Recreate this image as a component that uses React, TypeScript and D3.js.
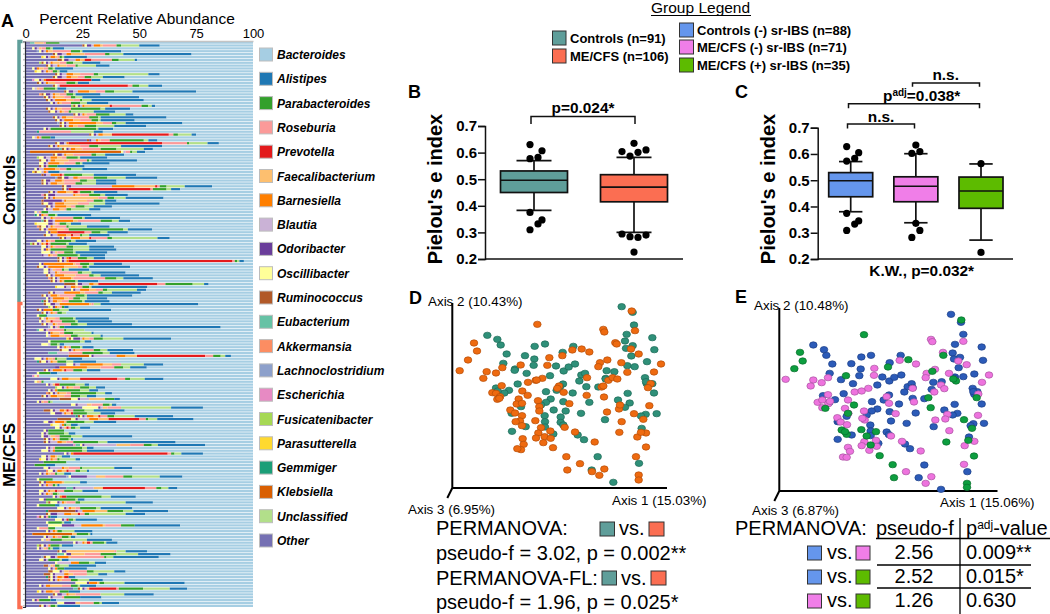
import React, { useEffect, useRef } from 'react'
import * as d3 from 'd3'

const font = '"Liberation Sans", Arial, sans-serif'

const percentTicks = [0, 25, 50, 75, 100]

// legend order, top to bottom
const taxa = ['Bacteroides', 'Alistipes', 'Parabacteroides', 'Roseburia', 'Prevotella', 'Faecalibacterium', 'Barnesiella', 'Blautia', 'Odoribacter', 'Oscillibacter', 'Ruminococcus', 'Eubacterium', 'Akkermansia', 'Lachnoclostridium', 'Escherichia', 'Fusicatenibacter', 'Parasutterella', 'Gemmiger', 'Klebsiella', 'Unclassified', 'Other']
const taxaColors = ['#a6cee3', '#1f78b4', '#33a02c', '#fb9a99', '#e31a1c', '#fdbf6f', '#ff7f00', '#cab2d6', '#6a3d9a', '#ffff99', '#b15928', '#66c2a5', '#fc8d62', '#8da0cb', '#e78ac3', '#a6d854', '#ffd92f', '#1b9e77', '#d95f02', '#b2df8a', '#7570b3']

// how the bars stack, left to right
const stackOrder = ['Other', 'Klebsiella', 'Gemmiger', 'Parasutterella', 'Fusicatenibacter', 'Escherichia', 'Lachnoclostridium', 'Akkermansia', 'Eubacterium', 'Ruminococcus', 'Oscillibacter', 'Odoribacter', 'Blautia', 'Barnesiella', 'Faecalibacterium', 'Prevotella', 'Roseburia', 'Parabacteroides', 'Unclassified', 'Alistipes', 'Bacteroides']

// columns of the two sample tables below
const mainColumns = ['Other', 'Ruminococcus', 'Oscillibacter', 'Odoribacter', 'Blautia', 'Barnesiella', 'Faecalibacterium', 'Prevotella', 'Roseburia', 'Parabacteroides', 'Unclassified', 'Alistipes']

const controlsRows = [
  [2,0,0,0,0,0,4,0,1,6,0,0],[25,1,1,2,1,3,1,0,6,2,8,9],[3,0,1,1,1,0,1,0,2,2,1,5],[5,0,1,1,1,1,2,0,8,4,1,17],[12,1,1,2,2,2,6,0,9,2,6,30],
  [7,0,1,1,1,2,1,0,1,1,1,10],[14,2,1,2,3,2,2,3,9,3,7,1],[6,1,1,1,1,1,3,0,3,3,4,8],[9,1,1,1,2,1,3,0,4,1,8,6],[3,0,1,1,0,1,2,0,2,2,1,8],
  [4,0,2,1,1,1,1,0,1,2,1,3.5],[13,1,1,1,2,3,3,0,6,2,22,5],[12,1,1,2,2,2,3,0,3,3,5,9.6],[3,0,2,1,1,1,0,20,0,0,0,4],[5,1,1,1,1,1,3,0,5,4,1,5],
  [12,1,1,0,1,0,0,30,2,3,4,6],[3,0,1,0,1,0,1,0,2,5,1,4],[17,1,1,2,2,5,3,0,4,4,8,28],[6,1,1,2,1,1,2,0,3,3,1,11],[8,1,1,1,1,1,4,0,3,2,3,25],
  [9,1,1,1,1,5,3,0,3,1,4,23],[11,0,1,1,1,1,1,0,4,4,3,9.5],[20,1,1,1,1,1,11,1,13,3,1.5,1.5],[9,1,1,1,1,1,2,0,4,13,2,11],[10,1,2,1,1,1,1,0,2,1,10,9.5],
  [21,1,1,1,1,1,1,0,4,6,7,3.5],[12,1,1,1,1,2,3,0,7,4,1,29],[13,1,1,1,1,4,3,0,5,3,1,15],[14,1,1,1,1,12,3,0,4,2,4,25],[15,1,1,1,1,2,2,0,3,5,8,14],
  [8,0,1,1,1,0,0,0,0,20,1,6.5],[5,0,0,0,0,0,0,0,14,0,10,4],[28,1,1,1,1,2,4,25,2,2,6,2],[3,0,1,0,1,1,0,0,1,4,0,2],[27,1,0,1,2,1,1,0,4,15,2,4],
  [13,1,1,2,1,1,0,41,11,1,8,5],[10,1,1,1,1,1,9,0,4,4,10,18],[15,1,1,1,1,2,3,0,8,7,12,4],[2,0,1,0,1,0,0,0,2,1,2,3.6],[12,1,1,2,1,1,3,0,8,2,4,8.4],
  [5,0,2,1,2,3,2,0,2,5,1,12],[6,1,2,1,1,2,6,0,8,1,1,20],[6,0,2,1,1,5,2,0,5,2,1,12],[6,1,1,1,0,0,0,0,1,4,0,12],[4,0,1,1,2,5,2,0,3,2,5,11],
  [3,1,2,0,1,1,0,0,1,0,0,5],[7,1,0,1,2,4,0,1,1,8,5,18.7],[13,2,1,2,2,2,1,0,6,6,8,14],[7,1,1,2,2,3,1,0,7,3,4,9],[7,1,1,1,1,3,3,0,5,3,6,9],
  [16,1,1,2,18,10,9,1,1,3,8,12],[16,1,1,1,0,0,0,36,1,6,2,4],[10,1,1,1,1,4,3,2,1,5,1,10.5],[7,1,1,3,8,1,2,0,4,5,2,10],[8,1,1,1,1,1,19,0,4,3,5,16.7],
  [7,1,0,8,1,1,9,0,3,4,1,5],[7,1,2,2,1,4,6,0,5,0,7,24],[9,1,1,1,1,5,2,0,2,4,4,8],[8,0,1,1,2,3,2,0,1,2,8,5],[4,0,1,0,1,0,0,0,1,3,0,0],
  [4,0,1,1,0,1,1,0,1,3,1,15],[7,0,1,1,2,1,1,0,8,4,1,15.7],[7,1,1,2,1,8,2,0,10,5,3,5],[4,0,5,2,1,0,1,0,1,3,2,4.4],[5,1,2,1,1,1,1,0,5,1,8,10],
  [6,1,1,1,1,4,3,0,2,24,2,10.6],[9,0,1,1,0,3,0,12,3,4,3,9],[8,1,2,1,2,4,2,1,3,1,3,9],[15,1,1,1,2,4,4,1,7,2,20,5.4],[5,0,2,1,1,1,1,0,2,7,2,9],
  [2,1,1,1,1,1,1,1,1,7,1,8],[7,0,2,1,1,1,1,0,5,3,7,11],[7,0,1,1,0,1,1,0,0,10,7,12],[7,0,4,1,1,0,1,0,3,4,1,14],[7,0,0,1,2,1,1,0,2,9,1,11],
  [14,1,1,1,1,1,0,1,3,4,3,5],[14,1,1,1,1,1,0,72,1,1,1,2],[6,0,1,1,0,13,1,0,2,4,2,12.4],[5,1,2,1,1,7,6,0,2,2,1,18],[8,0,2,1,1,0,1,0,3,1,2,9],
  [8,0,2,1,2,1,1,0,8,2,4,15],[9,1,1,1,1,4,5,0,6,2,3,17],[10,1,1,1,1,5,1,0,14,5,3,13],[11,1,1,1,1,1,1,0,0,5,1,9],[17,5,1,2,3,2,2,26,3.5,12,5,2],
  [13,0,3,1,2,2,1,0,2,3,1,24.6],[20,0,1,1,2,4,3,0,3,2,13,4],[10,1,1,1,4,7,2,0,6,2,4,12.7],[7,1,1,1,1,3,1,0,7,4,1,20],[9,0,1,1,1,5,2,0,2,3,3,9],
  [7,1,1,1,1,2,2,0,3,6,1,11],
]

const mecfsRows = [
  [8,1,2,2,2,13,1,0,1,0,3,43],[10,0,1,1,0,1,1,0,1,1,0,2],[5,1,1,1,0,4,0,0,0,3,4,18.7],[7,1,1,1,1,1,1,0,1,2,2,0],[5,0,1,0,0,0,0,0,0,3,0,0.5],
  [6,1,1,0,1,1,3,0,2,6,1,14.7],[6,0,1,1,1,0,2,1,4,6,1,15],[7,1,1,1,2,1,1,0,6,3,4,19.8],[10,0,1,1,1,0,0,0,1,2,0,68.8],[5,0,2,1,1,0,0,0,7,1,8,0],
  [9,0,1,1,0,1,3,0,2,4,8,1],[9,0,1,0,1,4,2,0,3,3,10,1],[18,1,1,3,1,1,2,0,2,4,9,21],[10,0,1,0,0,0,0,0,0,13,2,3],[7,0,3,0,1,0,0,0,0,3,1,2],
  [14,0,1,1,1,1,1,0,1,4,1,5],[15,1,3,1,1,1,2,0,6,3,3,11.4],[10,0,0,0,5,0,0,0,6,9,3,11],[19,0,1,1,10,4,5,30,3.5,3.3,2,2.5],[4,0,3,1,1,1,2,0,1,1,4,7],
  [5,1,2,1,1,1,2,0,0,4,3,10],[18,0,3,1,2,10,4,0,4,0,10,8.6],[13,0,0,2,0,12,6,0,6,4,3,7.3],[8,1,1,1,1,4,1,1,3,4,2,6],[5,0,1,0,0,0,0,0,0,5,0,3],
  [3,0,1,0,0,0,0,0,1,0,0,0],[11,0,3,1,1,3,5,16.4,3.4,2.2,6.4,8.3],[4,0,1,0,0,0,1,0,1,1,0,0],[9,0,1,1,1,0,1,2,0,7,4,2],[13,0,2,1,1,1,2,0,3,4,3,4],
  [10,0,1,1,1,1,0,0,0,10,4,4],[9,1,1,1,1,1,3,0,2,11,4,3],[7,1,1,1,1,3,3,0,3,4,3,4],[15,5,3,1,4,0,7,0,0,4,0,2.5],[5,0,1,1,0,0,1,0,2,1,1,0],
  [20,0,2,1,4,0,2,0,5,3,1,2],[25,0,7,1,1,0,2,0,6,0,22,14],[8,3,1,1,2,2,1,1,2,5,4,13.6],[11,0,2,3,1,1,2,1,0,6,6,6.5],[22,1,1,1,1,3,2,1,3,3,9,17],
  [14,6,2,1,5,4,4.5,13.4,3,1,4,16],[8,0,2,2,1,4,1,0,0,8,4,10],[11,0,3,0,1,1,0,0,0,1,2,3],[13,0,2,1,1,0,1,1,1,2,2,4.5],[8,0,1,1,0,0,0,0,0,7,0,0],
  [7,0,1,1,1,0,0,0,0,7,2,3],[7,0,1,2,1,0,2,0,2,5,5,22],[8,1,1,1,1,1,1,0,1,4,1,1],[8,1,1,1,3,2,2,0,3,11,4,30],[21,0,1,1,14,0,6,0,6,3.5,2.7,20.7],
  [9,0,1,1,1,0,0,0,1,12,2,3],[7,0,3,1,1,1,0,0,0,12,2,12],[17,0,1,1,1,1,0,41.5,1.5,1.5,3,9.5],[7,0,2,1,1,2,1,0,0,0,2,3.6],[6,0,2,1,1,1,1,0,1,1,7,2],
  [8,0,0,0,0,0,0,0,0,10,0,0],[4,0,0,0,0,0,0,0,0,5,0,4],[8,0,2,1,5,1,2,0,5,1,14,8],[9,0,2,1,1,2,2,1,3,2,3,1],[6,0,1,1,1,1,1,0,2,1,3,3],
  [18,0,1,7,4,0,4,0,8,4,12,10],[5,0,1,0,0,0,0,0,0,6,0,0],[6,1,1,1,0,7,1,0,0,0,7,3],[6,0,1,1,1,1,0,0,2,1,1,1],[18,0,0,1,8,0,4,18.5,5,2.3,3,4],
  [6,0,2,1,1,1,2,1,3,4,4,7],[6,0,1,1,1,1,1,0,1,2,1,0],[12,0,1,1,1,1,0,2,0,15.5,4,11],[6,0,2,1,0,0,0,0,0,13,1,3],[9,1,3,1,1,1,1,0,4,2,20,12],
  [5,0,1,0,0,0,0,0,0,7,0,2],[14,0,3,1,1,1,2,0,2,7,2,14],[9,12,0,1,2,5.5,5.5,0,0,7,4.4,15.3],[9,1,1,3,3,3,3,1,2,2,16,8.6],[5,1,1,1,0,0,0,0,1,1,0,3],
  [13,0,3,1,1,0,0,1,0,2,1,9.4],[9,0,1,0,0,0,0,0,0,6,1,3],[10,0,6,5.5,3,9.5,1,0,7,6,0,20],[5,0,1,0,0,0,0,0,4,3,0,0],[9,0,1,1,1,1,1,0,0,2,5.5,8],
  [3,0,0,0,0,0,2,0,0,5,1,1],[8,0,1,1,2,1,1,0,2,3,1,2],[7,0,1,0,1,0,1,0,1,5,11,11],[21,0,1,1,2,1,1,1.5,1,5,1,5],[5,1,1,1,1,1,0,0,0,4,1,5],
  [5,0,1,1,1,0,1,0,1,1,1,3],[14,1,1,2,0,0,21,0,1,0,4,9.4],[14,0,1,2,0,0,6,0,7,7,9.5,14.3],[7,1,2,2,1,5,1,0,14.6,1,3,20],[6,0,2,1,1,0,0,0,0,5,1,3],
  [13,0,1,0,6,3.5,0,0,0,4.5,2.5,5],[8,2,0,0,1,0,1,0,1,2,4,12],[10,0,1,1,1,1,0,0,0,3,0,10],[10,2,3,1,1,0,2,0,8,3,9,5],[8,3,1,1,4,2,2,0,6,0,5,4],
  [9,1,1,1,1,2,1,2,0,0,0,3],[10,1,1,1,1,1,1,0,4,3,5,6],[22,0,5,1,0,3.5,1,0,0,2,9,26.5],[6,0,1,1,1,2,5,0,4,3,1,7],[21,1,1,1,1,0,1,12,1,10.7,11.7,7.7],
  [5,0,1,1,1,3,1,0,2,4,0,5],[12,1,1,2,2,1,3,0,11,0,10.4,13],[10,0,1,1,4,0,0,0,1,7,0,9.4],[3,0,1,1,0,0,0,0,1,5,0,2.5],[14,0,3,5,0,0,2,0,6,2.6,1,7.6],
  [6,1,1,1,1,0,0,0,1,2,1,10],
]

// rare taxa: [sample number, percent]
const klebsiella = [[38, 40], [109, 9], [171, 17.5]]
const gemmiger = [[31, 1], [60, 1], [90, 1], [111, 1], [130, 1], [163, 1], [186, 1]]
const parasutterella = [[5, 1], [10, 1], [45, 1], [63, 1], [85, 1], [103, 1], [133, 1], [145, 1], [191, 1]]
const fusicatenibacter = [[7, 1], [22, 1], [40, 1], [70, 1], [92, 1], [120, 1], [160, 1], [175, 1]]
const escherichia = [[13, 1], [53, 1], [116, 1], [140, 1], [165, 1]]
const lachnoclostridium = [[3, 1], [28, 1], [47, 1], [99, 1], [151, 1], [179, 1]]
const akkermansia = [[18, 1], [64, 1], [82, 1], [122, 1], [149, 1]]
const eubacterium = [[0, 2], [37, 1], [62, 1], [100, 1], [108, 4], [140, 2], [155, 3], [178, 3], [190, 2]]

// panels B and C, box stats are [low, q1, median, q3, high]
const boxB = ['Controls', 'ME/CFS']
const boxBStats = [[0.383, 0.45, 0.496, 0.531, 0.57], [0.30, 0.415, 0.47, 0.517, 0.582]]
const boxBColors = ['#5f9e9a', '#fb6e52']
// outliers are [value, swarm slot]
const boxBOutliers = [
  [[0.63, -1], [0.607, 2], [0.582, 1], [0.577, -1], [0.375, -1], [0.347, 2], [0.332, 1], [0.31, -1]],
  [[0.635, 0], [0.604, -3], [0.61, 3], [0.601, 1], [0.587, -1], [0.294, -3], [0.29, 3], [0.284, -1], [0.281, 1], [0.226, 0]],
]

const boxC = ['Controls (-)', 'ME/CFS (-)', 'ME/CFS (+)']
const boxCStats = [[0.38, 0.437, 0.498, 0.529, 0.571], [0.338, 0.418, 0.477, 0.513, 0.601], [0.272, 0.393, 0.459, 0.512, 0.562]]
const boxCColors = ['#6596ec', '#f07ee8', '#5dbb00']
const boxCOutliers = [
  [[0.628, -1], [0.605, 2], [0.583, 1], [0.573, -1], [0.374, -1], [0.345, 2], [0.333, 1], [0.309, -1]],
  [[0.634, 0], [0.602, -1], [0.609, 1], [0.336, 0], [0.309, 1], [0.282, -1]],
  [[0.563, 0], [0.225, 0]],
]
const pielouTicks = [0.2, 0.3, 0.4, 0.5, 0.6, 0.7]

// panel D, PCoA scores (arbitrary units, y downward)
const pcoaDControls = [[605,65],[638,82],[642,120],[620,148],[615,168],[697,158],[703,194],[638,182],[618,190],[634,213],[681,230],[622,242],[644,245],[583,260],[560,257],[557,280],[675,278],[680,296],[702,324],[623,325],[594,345],[629,354],[615,367],[710,386],[677,388],[663,393],[665,430],[657,535],[580,592],[515,555],[533,515],[492,464],[473,450],[555,404],[508,352],[499,305],[535,306],[458,324],[483,385],[437,378],[430,350],[429,297],[410,316],[392,342],[378,320],[390,272],[320,265],[293,297],[267,316],[253,324],[228,309],[285,252],[250,235],[260,207],[242,180],[232,163],[202,151],[344,184],[375,177],[315,212],[343,222],[341,241],[428,202],[460,184],[408,243],[431,258],[446,246],[465,237],[484,270],[495,265],[478,288],[378,352],[363,360],[401,375],[374,392],[375,410],[375,426],[422,396],[422,412],[430,420],[276,439],[317,425],[400,447],[303,365],[275,385],[284,256],[420,305],[557,282],[697,296],[233,318],[678,290]]
const pcoaDMecfs = [[635,78],[352,118],[550,133],[553,141],[645,137],[586,173],[590,177],[633,192],[656,207],[162,174],[171,198],[144,225],[119,257],[200,260],[190,280],[228,264],[247,248],[302,240],[388,218],[427,212],[382,241],[457,195],[485,192],[508,201],[562,225],[540,233],[535,245],[604,233],[622,262],[702,261],[723,237],[501,278],[565,286],[578,278],[592,282],[692,296],[684,308],[545,306],[500,331],[552,336],[431,322],[417,303],[347,286],[324,292],[367,280],[350,285],[245,302],[217,323],[228,325],[240,335],[232,343],[307,318],[323,331],[296,342],[290,357],[306,355],[354,347],[358,365],[358,378],[271,375],[285,384],[306,392],[300,408],[287,410],[306,422],[346,407],[448,356],[561,381],[597,372],[600,360],[642,386],[688,362],[670,403],[605,410],[598,442],[652,456],[678,444],[663,442],[465,441],[434,427],[391,438],[363,428],[355,444],[348,459],[374,455],[392,460],[370,473],[399,488],[308,461],[311,478],[303,494],[292,491],[524,471],[678,486],[648,515],[439,515],[480,536],[442,555],[553,552],[516,560],[538,571],[656,570],[656,585],[412,310],[550,303],[238,340]]

// panel E
const pcoaEControls = [[633,88],[663,112],[670,148],[645,178],[725,186],[729,226],[638,204],[660,217],[642,222],[656,248],[703,267],[670,275],[645,276],[605,290],[580,292],[575,313],[698,310],[712,320],[703,328],[725,357],[644,358],[613,375],[652,385],[638,390],[732,415],[700,416],[692,422],[687,456],[682,560],[603,613],[536,578],[553,540],[510,491],[495,477],[581,425],[527,384],[518,340],[553,341],[503,305],[515,296],[493,321],[477,357],[500,415],[449,380],[453,408],[447,330],[431,345],[412,372],[396,350],[395,378],[412,300],[339,296],[303,284],[311,326],[285,344],[268,352],[249,332],[269,265],[277,237],[259,211],[252,194],[220,180],[364,216],[393,211],[334,236],[362,252],[358,272],[449,233],[482,211],[427,276],[448,288],[463,277],[484,270],[518,308],[380,390],[391,420],[392,438],[392,452],[440,441],[447,449],[293,463],[335,450],[415,475],[320,394],[293,410],[297,410],[700,320],[643,280]]
const pcoaEMecfsNeg = [[573,163],[577,170],[670,169],[609,202],[655,228],[680,239],[137,283],[220,285],[212,303],[245,293],[264,278],[403,250],[402,271],[479,226],[528,237],[585,253],[560,265],[557,278],[627,265],[747,270],[726,292],[518,310],[583,321],[603,300],[613,311],[715,327],[344,321],[365,318],[385,310],[440,335],[447,355],[522,351],[264,329],[233,352],[247,345],[247,368],[265,356],[324,345],[315,370],[325,385],[372,378],[374,405],[467,386],[622,388],[586,405],[616,402],[714,391],[292,398],[302,411],[321,419],[628,437],[486,469],[453,453],[408,466],[373,470],[365,482],[388,496],[410,484],[703,469],[674,482],[324,487],[330,499],[309,516],[320,517],[542,498],[672,538],[498,560],[574,575],[557,595],[367,400],[270,349]]
const pcoaEMecfsPos = [[664,105],[372,149],[180,202],[188,228],[163,251],[610,211],[505,224],[444,246],[577,259],[318,272],[648,288],[565,338],[710,338],[342,360],[256,370],[572,368],[324,385],[672,404],[696,430],[305,435],[320,448],[364,434],[380,453],[392,480],[619,471],[685,466],[419,512],[702,513],[458,539],[462,578],[681,595],[681,607],[408,440],[315,440],[640,282]]

const tableRows = [
  { a: '#6596ec', b: '#f07ee8', f: '2.56', p: '0.009**' },
  { a: '#6596ec', b: '#5dbb00', f: '2.52', p: '0.015*' },
  { a: '#f07ee8', b: '#5dbb00', f: '1.26', p: '0.630' },
]

const label = (g: any, x: number, y: number, txt: string, size: number, opts: any = {}) =>
  g.append('text')
    .attr('x', x).attr('y', y)
    .attr('font-size', size)
    .attr('font-weight', opts.weight || 'normal')
    .attr('font-style', opts.style || 'normal')
    .attr('text-anchor', opts.anchor || 'start')
    .attr('fill', opts.fill || '#000')
    .text(txt)

const vLabel = (g: any, x: number, y: number, txt: string, size: number) =>
  g.append('text')
    .attr('transform', `translate(${x},${y}) rotate(-90)`)
    .attr('text-anchor', 'middle')
    .attr('font-size', size)
    .attr('font-weight', 'bold')
    .text(txt)

const swatch = (g: any, x: number, y: number, w: number, h: number, fill: string, stroke = '#333') =>
  g.append('rect').attr('x', x).attr('y', y).attr('width', w).attr('height', h)
    .attr('fill', fill).attr('stroke', stroke).attr('stroke-width', 1)

const bracket = (g: any, x1: number, x2: number, top: number, drop: number) =>
  g.append('path')
    .attr('d', `M${x1},${top + drop}V${top}H${x2}V${top + drop}`)
    .attr('fill', 'none').attr('stroke', '#111').attr('stroke-width', 1.5)

function drawBars(svg: any) {
  const samples = [...controlsRows, ...mecfsRows].map((row, i) => {
    const rec: any = { sample: i }
    mainColumns.forEach((c, j) => { rec[c] = row[j] })
    const rare: [string, number[][]][] = [['Klebsiella', klebsiella], ['Gemmiger', gemmiger], ['Parasutterella', parasutterella], ['Fusicatenibacter', fusicatenibacter], ['Escherichia', escherichia], ['Lachnoclostridium', lachnoclostridium], ['Akkermansia', akkermansia], ['Eubacterium', eubacterium]]
    rare.forEach(([name, list]) => {
      const hit = list.find(d => d[0] === i)
      rec[name] = hit ? hit[1] : 0
    })
    // whatever is left of the 100% is Bacteroides
    rec.Bacteroides = Math.max(0, 100 - d3.sum(stackOrder.slice(0, -1), k => rec[k]))
    return rec
  })

  const x = d3.scaleLinear().domain([0, 100]).range([25.5, 253])
  const y = d3.scaleBand<number>().domain(d3.range(samples.length)).range([41.5, 607]).paddingInner(0.22)
  const color = d3.scaleOrdinal<string, string>().domain(taxa).range(taxaColors)

  const series = d3.stack().keys(stackOrder)(samples)
  const g = svg.append('g')
  g.selectAll('g').data(series).join('g')
    .attr('fill', (d: any) => color(d.key))
    .selectAll('rect')
    .data((d: any) => d)
    .join('rect')
    .attr('x', (d: any) => x(d[0]))
    .attr('y', (d: any) => y(d.data.sample))
    .attr('width', (d: any) => x(d[1]) - x(d[0]))
    .attr('height', y.bandwidth())

  const top = svg.append('g').attr('transform', 'translate(0,41)')
    .call(d3.axisTop(x).tickValues(percentTicks).tickSize(0).tickPadding(3))
  top.selectAll('text').attr('font-size', 13).attr('font-family', font).attr('fill', '#000')
  top.select('.domain').attr('stroke', '#c4c4c4').attr('stroke-width', 1.5)

  const left = svg.append('g').attr('transform', 'translate(25,0)')
    .call(d3.axisLeft(y).tickValues(d3.range(0, samples.length, 2)).tickSize(2).tickFormat(() => ''))
  left.selectAll('line').attr('stroke', '#aaa')
  left.select('.domain').attr('stroke', '#2a2a3a').attr('stroke-width', 1.2)

  label(svg, 137, 24, 'Percent Relative Abundance', 15.5, { anchor: 'middle' })

  // group brackets on the left
  svg.append('path').attr('d', 'M22.5,41.5H19V302').attr('fill', 'none').attr('stroke', '#5f9e9a').attr('stroke-width', 3.5)
  svg.append('path').attr('d', 'M22.5,303.5H19V607.5H22.5').attr('fill', 'none').attr('stroke', '#fb6e52').attr('stroke-width', 3.5)
  vLabel(svg, 15, 190, 'Controls', 17)
  vLabel(svg, 15, 455, 'ME/CFS', 17)

  const legendY = d3.scalePoint<string>().domain(taxa).range([55, 541])
  const lg = svg.append('g')
  taxa.forEach(t => {
    swatch(lg, 259.5, legendY(t)! - 7, 13, 13, color(t), '#bdbdbd')
    label(lg, 277, legendY(t)! + 4, t, 12, { weight: 'bold', style: 'italic' })
  })
}

function drawBoxes(svg: any, names: string[], stats: number[][], colors: string[], outliers: number[][][], opts: any) {
  const y = d3.scaleLinear().domain([0.2, 0.7]).range([259, opts.top])
  const x = d3.scalePoint<string>().domain(names).range(opts.range)
  const g = svg.append('g')

  const axis = g.append('g').attr('transform', `translate(${opts.axisX},0)`)
    .call(d3.axisLeft(y).tickValues(pielouTicks).tickFormat(d3.format('.1f')).tickSize(7).tickPadding(1))
  axis.selectAll('text').attr('font-size', 15).attr('font-weight', 'bold').attr('font-family', font).attr('fill', '#000')
  axis.selectAll('line').attr('stroke', '#111').attr('stroke-width', 1.5)
  axis.select('.domain').attr('stroke', '#111').attr('stroke-width', 1.5)
  g.append('line').attr('x1', opts.axisX).attr('x2', opts.axisEnd).attr('y1', y(0.2)).attr('y2', y(0.2))
    .attr('stroke', '#111').attr('stroke-width', 1.5)

  names.forEach((n, i) => {
    const cx = x(n)!
    const [lo, q1, med, q3, hi] = stats[i]
    g.append('line').attr('x1', cx).attr('x2', cx).attr('y1', y(lo)).attr('y2', y(hi)).attr('stroke', '#111').attr('stroke-width', 1.7)
    ;[lo, hi].forEach(v => {
      g.append('line').attr('x1', cx - opts.cap).attr('x2', cx + opts.cap).attr('y1', y(v)).attr('y2', y(v)).attr('stroke', '#111').attr('stroke-width', 1.7)
    })
    g.append('rect').attr('x', cx - opts.half).attr('width', opts.half * 2)
      .attr('y', y(q3)).attr('height', y(q1) - y(q3))
      .attr('fill', colors[i]).attr('stroke', '#111').attr('stroke-width', 1.7)
    g.append('line').attr('x1', cx - opts.half).attr('x2', cx + opts.half).attr('y1', y(med)).attr('y2', y(med)).attr('stroke', '#111').attr('stroke-width', 1.7)
    g.selectAll(null).data(outliers[i]).join('circle')
      .attr('cx', (d: number[]) => cx + d[1] * 4)
      .attr('cy', (d: number[]) => y(d[0]))
      .attr('r', 3.6).attr('fill', '#000')
  })
  vLabel(g, opts.labelX, 189, "Pielou's e index", 20)
}

function drawPcoa(svg: any, left: number, top: number, groups: any[], vx: number, vy1: number, vy2: number, hx: number) {
  const x = d3.scaleLinear().domain([0, 900]).range([left, left + 300])
  const y = d3.scaleLinear().domain([0, 630]).range([top, top + 210])
  const g = svg.append('g')
  g.append('path').attr('d', `M${vx},${vy1}V${vy2}H${hx}M${vx},${vy2}L${vx - 5},${vy2 + 10}`)
    .attr('fill', 'none').attr('stroke', '#000').attr('stroke-width', 2)
  groups.forEach(gr => {
    g.selectAll(null).data(gr.points).join('ellipse')
      .attr('cx', (d: number[]) => x(d[0]))
      .attr('cy', (d: number[]) => y(d[1]))
      .attr('rx', 3.8).attr('ry', 3.2)
      .attr('fill', gr.fill).attr('stroke', gr.edge).attr('stroke-width', 0.7)
  })
}

const App = () => {
  const ref = useRef<SVGSVGElement>(null)

  useEffect(() => {
    const svg = d3.select(ref.current)
    svg.selectAll('*').remove()

    drawBars(svg)

    // panel letters
    label(svg, 1, 27, 'A', 18, { weight: 'bold' })
    label(svg, 408, 98, 'B', 18, { weight: 'bold' })
    label(svg, 735, 98, 'C', 18, { weight: 'bold' })
    label(svg, 409, 304, 'D', 18, { weight: 'bold' })
    label(svg, 735, 303, 'E', 18, { weight: 'bold' })

    // group legend
    label(svg, 651, 13, 'Group Legend', 15.5)
    svg.append('line').attr('x1', 651).attr('x2', 751).attr('y1', 15.5).attr('y2', 15.5).attr('stroke', '#000')
    swatch(svg, 552.5, 31, 13.5, 14, '#5f9e9a')
    swatch(svg, 552.5, 49, 13.5, 14, '#fb6e52')
    label(svg, 570, 43, 'Controls (n=91)', 13, { weight: 'bold' })
    label(svg, 570, 61, 'ME/CFS (n=106)', 13, { weight: 'bold' })
    swatch(svg, 679.5, 23, 14, 14, '#6596ec')
    swatch(svg, 679.5, 40, 14, 14, '#f07ee8')
    swatch(svg, 679.5, 58, 14, 14, '#5dbb00')
    label(svg, 697, 34.5, 'Controls (-) sr-IBS (n=88)', 13, { weight: 'bold' })
    label(svg, 697, 52, 'ME/CFS (-) sr-IBS (n=71)', 13, { weight: 'bold' })
    label(svg, 697, 69.5, 'ME/CFS (+) sr-IBS (n=35)', 13, { weight: 'bold' })

    // B
    drawBoxes(svg, boxB, boxBStats, boxBColors, boxBOutliers, { top: 126, range: [534, 634], axisX: 485, axisEnd: 683, cap: 17.5, half: 33.5, labelX: 442 })
    bracket(svg, 531, 635, 116.5, 7.5)
    label(svg, 583, 113, 'p=0.024*', 15.4, { weight: 'bold', anchor: 'middle' })

    // C
    drawBoxes(svg, boxC, boxCStats, boxCColors, boxCOutliers, { top: 127.7, range: [850.7, 981], axisX: 817.7, axisEnd: 1013, cap: 11.7, half: 22, labelX: 775 })
    bracket(svg, 847.5, 914.5, 124, 4.5)
    label(svg, 881, 122, 'n.s.', 15.4, { weight: 'bold', anchor: 'middle' })
    bracket(svg, 848.5, 979.5, 103.7, 4.5)
    const padj = label(svg, 883, 100.7, 'p', 15.4, { weight: 'bold' })
    padj.append('tspan').attr('dy', -5).attr('font-size', 10).text('adj')
    padj.append('tspan').attr('dy', 5).text('=0.038*')
    bracket(svg, 912.5, 979.5, 83, 3.7)
    label(svg, 945.7, 80, 'n.s.', 15.4, { weight: 'bold', anchor: 'middle' })
    label(svg, 921.7, 276, 'K.W., p=0.032*', 15.4, { weight: 'bold', anchor: 'middle' })

    // D
    drawPcoa(svg, 420, 285, [
      { points: pcoaDControls, fill: '#2f9079', edge: '#1e6a58' },
      { points: pcoaDMecfs, fill: '#ee6a10', edge: '#b54e08' },
    ], 452.3, 303, 488, 667)
    label(svg, 428, 305.5, 'Axis 2 (10.43%)', 13.4)
    label(svg, 408, 514, 'Axis 3 (6.95%)', 13.4)
    label(svg, 612, 505, 'Axis 1 (15.03%)', 13.4)

    // E
    drawPcoa(svg, 740, 285, [
      { points: pcoaEControls, fill: '#2c5bb8', edge: '#1d3f86' },
      { points: pcoaEMecfsNeg, fill: '#ee73de', edge: '#a855a0' },
      { points: pcoaEMecfsPos, fill: '#0d9e3f', edge: '#0a6e2c' },
    ], 779.3, 308, 491, 997.5)
    label(svg, 754, 310, 'Axis 2 (10.48%)', 13.4)
    label(svg, 752, 514.5, 'Axis 3 (6.87%)', 13.4)
    label(svg, 940, 507, 'Axis 1 (15.06%)', 13.4)

    // PERMANOVA, left
    label(svg, 436, 535, 'PERMANOVA:', 20)
    swatch(svg, 600, 522, 14.5, 14, '#5f9e9a')
    label(svg, 619, 535, 'vs.', 20)
    swatch(svg, 649, 522, 15, 14, '#fb6e52')
    label(svg, 436, 560, 'pseudo-f = 3.02, p = 0.002**', 20)
    label(svg, 436, 584.5, 'PERMANOVA-FL:', 20)
    swatch(svg, 602, 571, 14.5, 14, '#5f9e9a')
    label(svg, 621, 584.5, 'vs.', 20)
    swatch(svg, 651, 571, 15, 14, '#fb6e52')
    label(svg, 436, 608.5, 'pseudo-f = 1.96, p = 0.025*', 20)

    // PERMANOVA, right
    label(svg, 735, 535, 'PERMANOVA:', 20)
    label(svg, 876, 535, 'pseudo-f', 20)
    const ph = label(svg, 966, 535, 'p', 20)
    ph.append('tspan').attr('dy', -6).attr('font-size', 12).text('adj')
    ph.append('tspan').attr('dy', 6).text('-value')
    svg.append('line').attr('x1', 876).attr('x2', 1050).attr('y1', 538.5).attr('y2', 538.5).attr('stroke', '#000').attr('stroke-width', 1.3)
    svg.append('line').attr('x1', 960).attr('x2', 960).attr('y1', 518).attr('y2', 614).attr('stroke', '#000').attr('stroke-width', 1.3)
    svg.append('line').attr('x1', 877).attr('x2', 1031).attr('y1', 565).attr('y2', 565).attr('stroke', '#000').attr('stroke-width', 1.3)
    svg.append('line').attr('x1', 877).attr('x2', 1031).attr('y1', 588).attr('y2', 588).attr('stroke', '#000').attr('stroke-width', 1.3)
    const rowY = d3.scalePoint<number>().domain([0, 1, 2]).range([559, 607])
    tableRows.forEach((r, i) => {
      const by = rowY(i)!
      swatch(svg, 807.5, by - 13, 14, 14, r.a)
      label(svg, 827, by, 'vs.', 20)
      swatch(svg, 856, by - 13, 14, 14, r.b)
      label(svg, 914, by, r.f, 20, { anchor: 'middle' })
      label(svg, 966, by, r.p, 20)
    })
  }, [])

  return (
    <svg ref={ref} width={1050} height={614} viewBox="0 0 1050 614"
      style={{ position: 'absolute', left: 0, top: 0, display: 'block', background: '#fff', fontFamily: font }} />
  )
}

export default App
